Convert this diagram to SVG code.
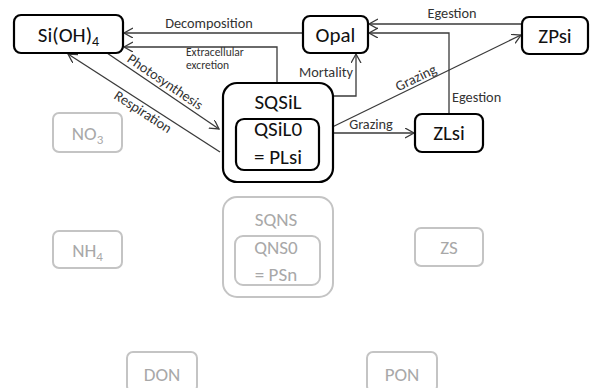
<svg xmlns="http://www.w3.org/2000/svg" width="590" height="388" viewBox="0 0 590 388">
<style>
  .box{fill:#fff;stroke:#000;stroke-width:2.2}
  .gbox{fill:#fff;stroke:#c4c4c4;stroke-width:2}
  .t{font-family:Carlito,Lato,"Open Sans",sans-serif;font-size:21px;fill:#111;text-anchor:middle}
  .g{font-family:Carlito,Lato,"Open Sans",sans-serif;font-size:19px;fill:#a8a8a8;text-anchor:middle}
  .lbl{font-family:Carlito,Lato,"Open Sans",sans-serif;font-size:14.3px;fill:#333}
  .sm{font-family:Carlito,Lato,"Open Sans",sans-serif;font-size:11.5px;fill:#333}
  .c{fill:none;stroke:#3a3a3a;stroke-width:1.3}
</style>
<defs>
  <marker id="arr" markerUnits="userSpaceOnUse" markerWidth="12" markerHeight="12" refX="9" refY="5" orient="auto">
    <path d="M0,0 L9,5 L0,10" fill="none" stroke="#3a3a3a" stroke-width="1.3"/>
  </marker>
</defs>

<g id="connectors">
  <path class="c" d="M303,33 H124" marker-end="url(#arr)"/>
  <path class="c" d="M277,83 V47 H124" marker-end="url(#arr)"/>
  <path class="c" d="M311,119 V96 H356 V54" marker-end="url(#arr)"/>
  <path class="c" d="M107,53 L219,129" marker-end="url(#arr)"/>
  <path class="c" d="M220,152 L68,54" marker-end="url(#arr)"/>
  <path class="c" d="M320,133 H414" marker-end="url(#arr)"/>
  <path class="c" d="M320,133 L521,35" marker-end="url(#arr)"/>
  <path class="c" d="M522,24 H369" marker-end="url(#arr)"/>
  <path class="c" d="M449,114 V33 H369" marker-end="url(#arr)"/>
  <text class="lbl" x="209" y="28" text-anchor="middle">Decomposition</text>
  <text class="sm" x="186" y="56">Extracellular</text>
  <text class="sm" x="186" y="68.5">excretion</text>
  <text class="lbl" x="353" y="77" text-anchor="end">Mortality</text>
  <text class="lbl" transform="translate(162.5,85.7) rotate(34.2)" text-anchor="middle">Photosynthesis</text>
  <text class="lbl" transform="translate(140.5,115.8) rotate(33.1)" text-anchor="middle">Respiration</text>
  <text class="lbl" x="371" y="129" text-anchor="middle">Grazing</text>
  <text class="lbl" transform="translate(418,82) rotate(-25.9)" text-anchor="middle">Grazing</text>
  <text class="lbl" x="452" y="18" text-anchor="middle">Egestion</text>
  <text class="lbl" x="452" y="102">Egestion</text>
</g>

<g id="SiOH4">
  <rect class="box" x="14" y="15" width="109" height="38" rx="7"/>
  <text class="t" x="68.5" y="42">Si(OH)<tspan font-size="14" dy="4">4</tspan></text>
</g>
<g id="Opal">
  <rect class="box" x="303" y="16" width="65" height="37" rx="7"/>
  <text class="t" x="335.5" y="42">Opal</text>
</g>
<g id="ZPsi">
  <rect class="box" x="522" y="17" width="66" height="37" rx="7"/>
  <text class="t" x="555" y="43">ZPsi</text>
</g>
<g id="ZLsi">
  <rect class="box" x="415" y="114" width="68" height="38" rx="7"/>
  <text class="t" x="449" y="140">ZLsi</text>
</g>
<g id="SQSiL">
  <rect class="box" x="223" y="83" width="110" height="99" rx="14"/>
  <text class="t" x="278" y="109">SQSiL</text>
  <g id="QSiL0">
    <rect class="box" x="236" y="119" width="83" height="51" rx="8"/>
    <text class="t" x="278" y="136">QSiL0</text>
    <text class="t" x="278" y="164">= PLsi</text>
  </g>
</g>

<g id="NO3">
  <rect class="gbox" x="53" y="113" width="69" height="39" rx="6"/>
  <text class="g" x="87.5" y="140">NO<tspan font-size="13" dy="4">3</tspan></text>
</g>
<g id="NH4">
  <rect class="gbox" x="53" y="231" width="69" height="37" rx="6"/>
  <text class="g" x="87.5" y="257">NH<tspan font-size="13" dy="4">4</tspan></text>
</g>
<g id="SQNS">
  <rect class="gbox" x="223" y="197" width="110" height="100" rx="14"/>
  <text class="g" x="276" y="226">SQNS</text>
  <g id="QNS0">
    <rect class="gbox" x="235" y="236" width="85" height="49" rx="8"/>
    <text class="g" x="276" y="254">QNS0</text>
    <text class="g" x="276" y="281">= PSn</text>
  </g>
</g>
<g id="ZS">
  <rect class="gbox" x="415" y="228" width="68" height="38" rx="6"/>
  <text class="g" x="449" y="254">ZS</text>
</g>
<g id="DON">
  <rect class="gbox" x="127" y="352" width="70" height="40" rx="6"/>
  <text class="g" x="162" y="381">DON</text>
</g>
<g id="PON">
  <rect class="gbox" x="367" y="352" width="70" height="40" rx="6"/>
  <text class="g" x="402" y="381">PON</text>
</g>
</svg>
